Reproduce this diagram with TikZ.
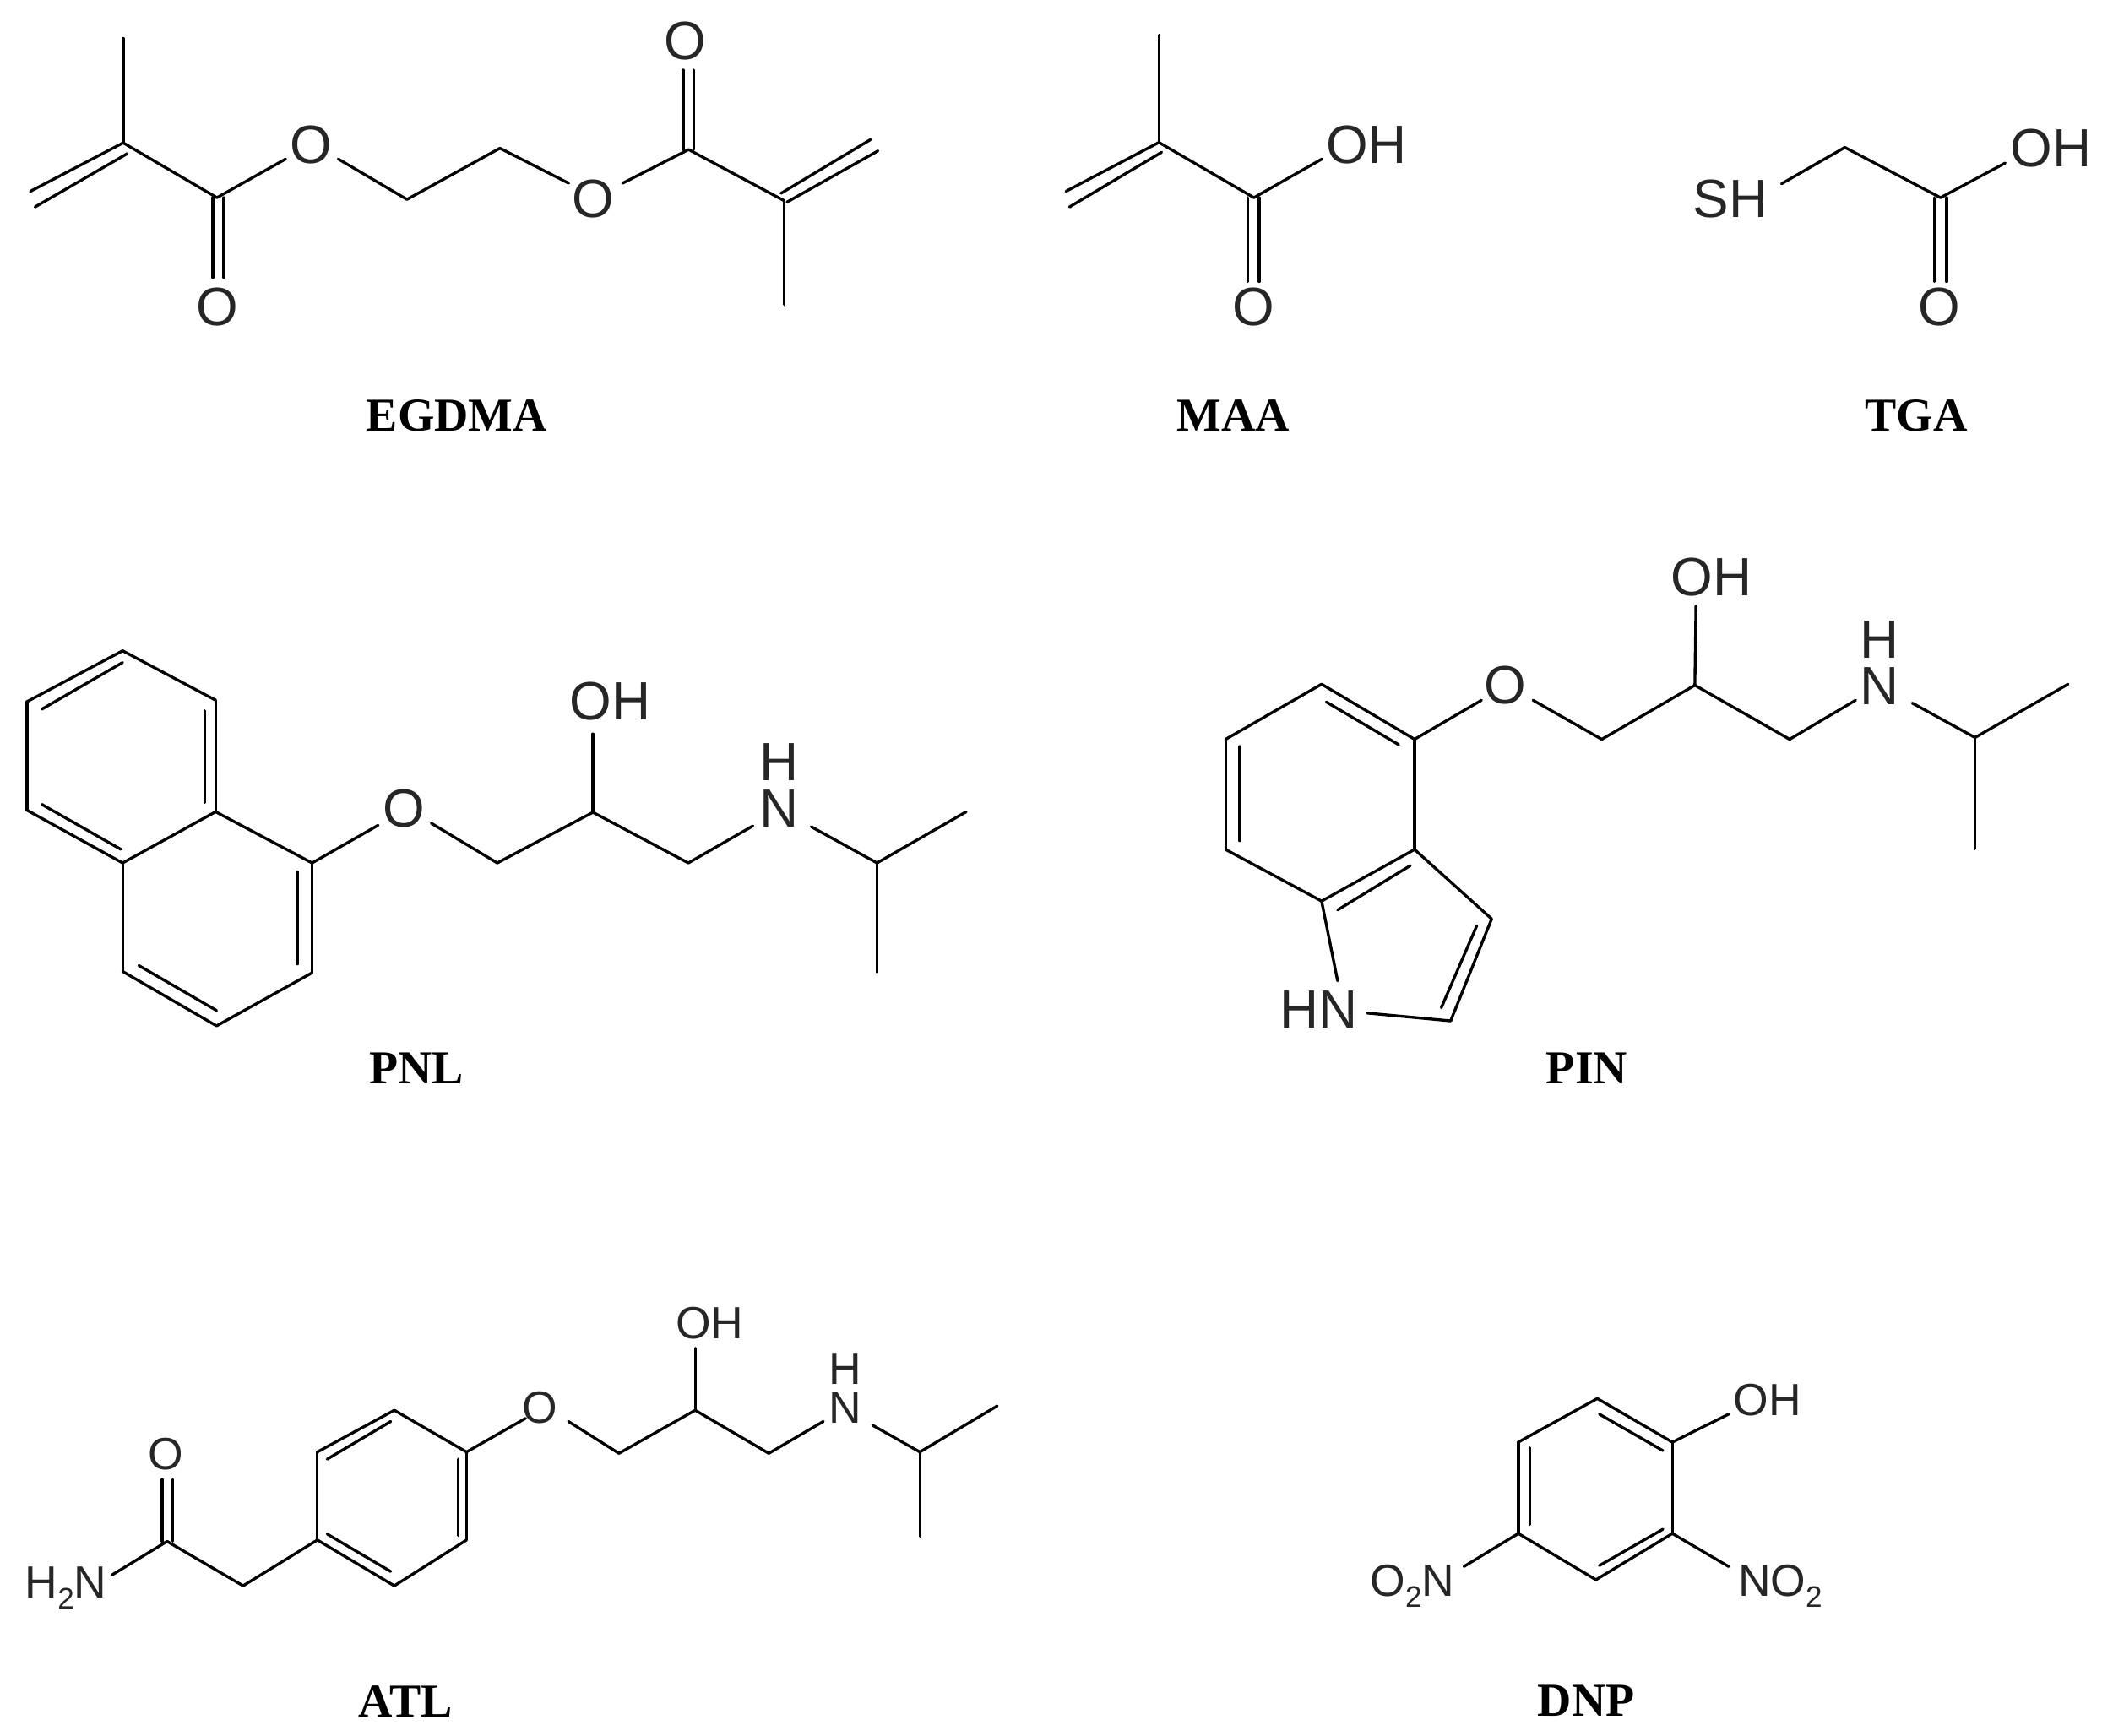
\documentclass[tikz,border=0pt]{standalone}
\usepackage{fontspec}
\setmainfont{Liberation Sans}
\newfontfamily\captionserif{Liberation Serif}
\newcommand{\subtwo}{\raisebox{-8pt}{\fontsize{22}{22}\selectfont 2}}
\tikzset{
  bond/.style={draw=black,line width=2.1pt,line cap=round,line join=round},
  atomL/.style={inner sep=0pt,anchor=base,yshift=-14pt,font=\fontsize{40}{40}\selectfont,text=black!85},
  atomS/.style={inner sep=0pt,anchor=base,yshift=-12pt,font=\fontsize{33.5}{34}\selectfont,text=black!85},
  stackL/.style={inner sep=0pt,anchor=south,align=center,font=\fontsize{40}{34.5}\selectfont,text=black!85},
  stackS/.style={inner sep=0pt,anchor=south,align=center,font=\fontsize{33.5}{28.8}\selectfont,text=black!85},
  caption/.style={inner sep=0pt,anchor=base,yshift=-11.5pt,font=\captionserif\bfseries\fontsize{35}{35}\selectfont,text=black}
}
\newcommand{\pts}[1]{\foreach \n/\x/\y in {#1} \coordinate (\n) at (\x,\y);}
\newcommand{\bonds}[1]{\foreach \a/\b in {#1} \draw[bond] (\a) -- (\b);}
\begin{document}
\begin{tikzpicture}[x=1pt,y=-1pt]
\useasboundingbox[fill=white] (0,0) rectangle (1568,1288);

% EGDMA
\pts{e1/91.4/28.5,e2/91.4/106,e3/22.5/142,e3a/26/153.6,e2a/94.5/114,e4/161/146.7,e5a/158/146.7,e5b/166/146.7,e6a/158/206,e6b/166/206,e7/212/118,e8/251/118,e9/302/148,e10/371/110,e11/422/136,e12/462/136,e13/511/111,e14a/507/111,e14b/515/111,e15a/507/52,e15b/515/52,e16/582/149,e17/582/226,e18/646/103.6,e19/579.5/143.5,e20/651.5/112,e21/584/150}
\bonds{e1/e2,e2/e3,e2a/e3a,e2/e4,e5a/e6a,e5b/e6b,e4/e7,e8/e9,e9/e10,e10/e11,e12/e13,e14a/e15a,e14b/e15b,e13/e16,e16/e17,e19/e18,e21/e20}
\node[atomL] (eO1) at (161.4,227.7) {O};
\node[atomL] (eO2) at (231,107) {O};
\node[atomL] (eO3) at (440,147.4) {O};
\node[atomL] (eO4) at (508.6,30) {O};
\node[caption] (eCap) at (339,308.6) {EGDMA};

% MAA
\pts{m1/860/26,m2/860/105.7,m3/791/142,m4/793.6/153.6,m5/862/113,m6/930.5/146.7,m7a/926/146.7,m7b/934.5/146.7,m8a/926/209,m8b/934.5/209,m9/981/118}
\bonds{m1/m2,m2/m3,m5/m4,m2/m6,m7a/m8a,m7b/m8b,m6/m9}
\node[atomL] (mO) at (930.5,227.7) {O};
\node[atomL] (mOH) at (1014,107) {OH};
\node[caption] (mCap) at (915,308.6) {MAA};

% TGA
\pts{t1/1322/136.4,t2/1369/109.4,t3/1440/146.7,t4a/1435.5/146.7,t4b/1444.5/146.7,t5a/1435.5/209,t5b/1444.5/209,t6/1488/121}
\bonds{t1/t2,t2/t3,t4a/t5a,t4b/t5b,t3/t6}
\node[atomL] (tSH) at (1284,147.4) {SH};
\node[atomL] (tO) at (1439,227.7) {O};
\node[atomL] (tOH) at (1522,110) {OH};
\node[caption] (tCap) at (1422,308.6) {TGA};

% PNL
\pts{pA/91/483,pB/160/519.7,pC/160/602.5,pD/91/640.5,pE/20/601.3,pF/20/520.8,pG/231.6/640.5,pH/231.6/722,pI/160.7/761.4,pJ/91/721,
 pa1/31/526.4,pa2/91/491.7,pb1/152/527.5,pb2/152/595.7,pc1/31/597,pc2/89.7/630.4,pd1/220.6/647,pd2/220.6/715.5,pe1/103/716.6,pe2/160.7/750,
 pO1/280.6/612.5,pO2/320/611,pK/369/640.5,pL/440/602.9,pOH/440/544.7,pM/510.8/640.5,pN1/558.7/613,pN2/602/613.6,pP/650.8/640.5,pQ/717/602.5,pR/650.8/721.7}
\bonds{pA/pB,pB/pC,pC/pD,pD/pE,pE/pF,pF/pA,pC/pG,pG/pH,pH/pI,pI/pJ,pJ/pD,pa1/pa2,pb1/pb2,pc1/pc2,pd1/pd2,pe1/pe2,pG/pO1,pO2/pK,pK/pL,pL/pOH,pL/pM,pM/pN1,pN2/pP,pP/pQ,pP/pR}
\node[atomL] (pOa) at (299.8,600) {O};
\node[atomL] (pOHa) at (453,520) {OH};
\node[stackL] (pNH) at (578,614.3) {H\\N};
\node[caption] (pCap) at (309,792.7) {PNL};

% PIN
\pts{ia/980.7/507.8,ib/1049.7/548.7,ic/1049.7/630.5,id/980.7/668.8,ie/909.5/630.5,if/909.5/548.7,ig/1106.9/682,ih/1076.5/757.7,iN1/1014.5/751.9,iN2/992.6/728,
 ia1/984.2/521,ia2/1037.9/552.7,ib1/920/554,ib2/920/624,ic1/1046.6/642.4,ic2/992.6/675.4,id1/1095.9/687,id2/1069.5/748,
 iO1/1099.4/519.7,iO2/1137.6/519.7,ik/1188.6/548.7,il/1257.7/508.6,iOH/1258.5/449.8,im/1328/548.7,iN3/1377/519.7,iN4/1419/521.8,ip/1465.6/547.4,iq/1534.6/507.8,ir/1465.6/630}
\bonds{ia/ib,ib/ic,ic/id,id/ie,ie/if,if/ia,ic/ig,ig/ih,ih/iN1,id/iN2,ia1/ia2,ib1/ib2,ic1/ic2,id1/id2,ib/iO1,iO2/ik,ik/il,il/iOH,il/im,im/iN3,iN4/ip,ip/iq,ip/ir}
\node[atomL] (iHN) at (978.5,749) {HN};
\node[atomL] (iOa) at (1117,508.6) {O};
\node[atomL] (iOHa) at (1270,428) {OH};
\node[stackL] (iNH) at (1395,522.9) {H\\N};
\node[caption] (iCap) at (1177.6,792.7) {PIN};

% ATL
\pts{ac/124/1144,ad1/120.4/1144,ad2/128.2/1144,ad3/120.4/1098,ad4/128.2/1098,aN/83/1169,aCH/180.4/1177,
 aq/235.5/1143,ar/235.5/1077.7,as/292.6/1046.7,at/346.2/1077.7,au/346.2/1143,av/292.6/1177,
 a11/242.8/1083,a12/290/1055,a21/340/1083,a22/340/1139.7,a31/242.8/1138.6,a32/290/1166.4,
 aO1/390/1052.7,aO2/421.8/1055,ak/459.3/1078.7,al/515.9/1046.7,aOH/515.9/1000.7,am/570.5/1078.7,aN1/611/1055,aN2/647.5/1057.8,ap/682.6/1077.7,aq2/740/1043.5,ar2/682.6/1140.3}
\bonds{ad1/ad3,ad2/ad4,ac/aN,ac/aCH,aCH/aq,aq/ar,ar/as,as/at,at/au,au/av,av/aq,a11/a12,a21/a22,a31/a32,at/aO1,aO2/ak,ak/al,al/aOH,al/am,am/aN1,aN2/ap,ap/aq2,ap/ar2}
\node[atomS] (aO) at (122.9,1078.7) {O};
\node[atomS] (aH2N) at (49,1174) {H\subtwo N};
\node[atomS] (aOa) at (400.8,1044.5) {O};
\node[atomS] (aOHa) at (526.6,981.5) {OH};
\node[stackS] (aNH) at (627.5,1056.5) {H\\N};
\node[caption] (aCap) at (301,1262.6) {ATL};

% DNP
\pts{da/1185.3/1038,db/1241/1070.4,dc/1241/1138.2,dd/1184.3/1172.5,de/1126.7/1138.2,df/1126.7/1070.4,
 d11/1186.8/1049.6,d12/1234/1076.7,d21/1135.4/1074.6,d22/1135.4/1131.5,d31/1234/1135,d32/1186.8/1162,
 dO/1282.8/1049.6,dN/1282.8/1162.7,dM/1086.3/1162.7}
\bonds{da/db,db/dc,dc/dd,dd/de,de/df,df/da,d11/d12,d21/d22,d31/d32,db/dO,dc/dN,de/dM}
\node[atomS] (dOH) at (1311.4,1038.5) {OH};
\node[atomS] (dNO2) at (1321,1173) {NO\subtwo};
\node[atomS] (dO2N) at (1048,1173) {O\subtwo N};
\node[caption] (dCap) at (1177,1262) {DNP};
\end{tikzpicture}
\end{document}
